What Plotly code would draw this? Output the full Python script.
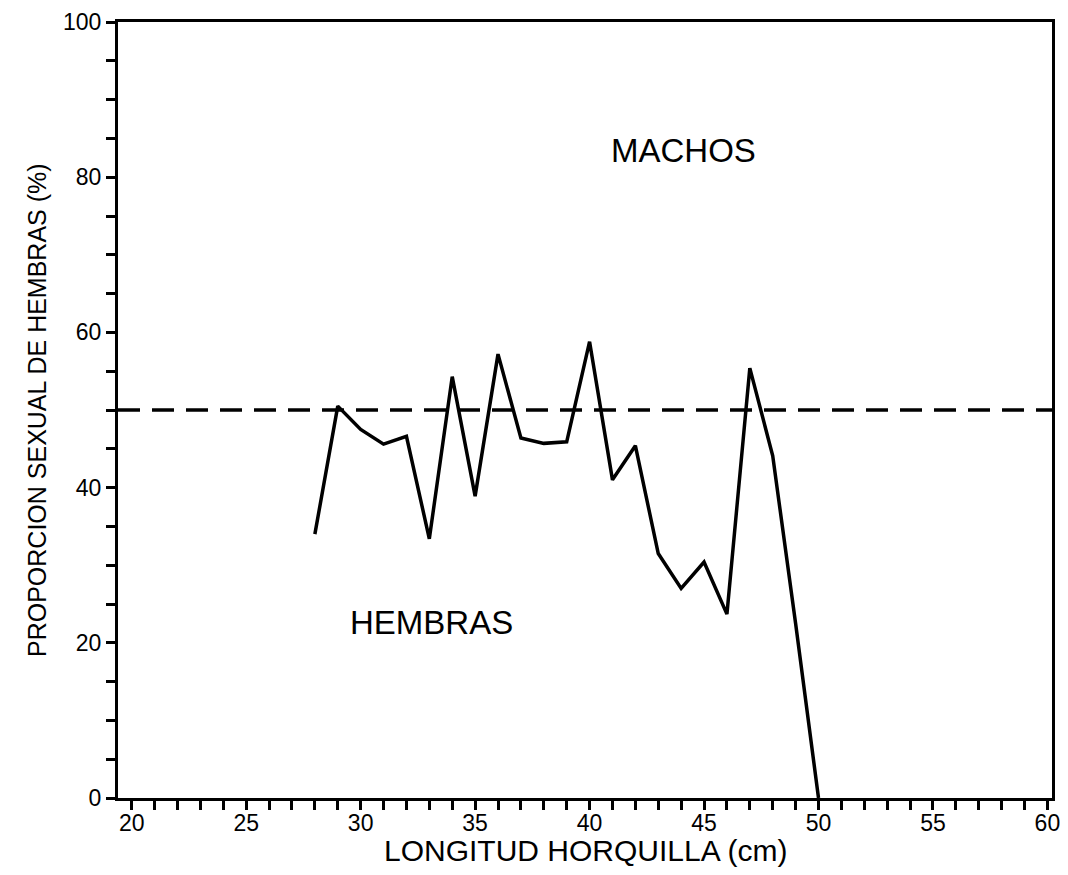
import plotly.graph_objects as go

# Data
longitud = [28, 29, 30, 31, 32, 33, 34, 35, 36, 37, 38, 39, 40, 41, 42, 43, 44, 45, 46, 47, 48, 49, 50]
prop_hembras = [34, 50.5, 47.5, 45.6, 46.6, 33.4, 54.3, 38.9, 57.2, 46.4, 45.7, 45.9, 58.8, 41.0, 45.4, 31.5, 27.0, 30.4, 23.7, 55.4, 44.1, 22.5, 0]
ref_x = [19.4, 60.2]
ref_y = [50, 50]

x_tickvals = [20, 25, 30, 35, 40, 45, 50, 55, 60]
y_tickvals = [0, 20, 40, 60, 80, 100]

FONT = "Liberation Sans, Arial, Helvetica, sans-serif"

fig = go.Figure()
fig.add_trace(go.Scatter(x=ref_x, y=ref_y, mode="lines",
                         line=dict(color="black", width=3.5, dash="22px,12px"),
                         showlegend=False, hoverinfo="skip"))
fig.add_trace(go.Scatter(x=longitud, y=prop_hembras, mode="lines",
                         line=dict(color="black", width=3.5),
                         showlegend=False))

fig.add_annotation(x=44.1, y=83.5, text="MACHOS", showarrow=False,
                   font=dict(family=FONT, size=33, color="black"))
fig.add_annotation(x=33.1, y=22.6, text="HEMBRAS", showarrow=False,
                   font=dict(family=FONT, size=33, color="black"))

# axis titles as annotations for precise placement
fig.add_annotation(x=0.5, y=0, xref="paper", yref="paper", yanchor="middle",
                   yshift=-52, text="LONGITUD HORQUILLA (cm)", showarrow=False,
                   font=dict(family=FONT, size=30, color="black"))
fig.add_annotation(x=0, y=0.5, xref="paper", yref="paper", xanchor="center",
                   xshift=-81, textangle=-90, text="PROPORCION SEXUAL DE HEMBRAS (%)",
                   showarrow=False, font=dict(family=FONT, size=25, color="black"))

fig.update_layout(
    width=1068, height=875,
    margin=dict(l=110, r=24, t=14, b=85),
    paper_bgcolor="white", plot_bgcolor="white",
    font=dict(family=FONT, color="black"),
)
fig.update_xaxes(
    range=ref_x, tickvals=x_tickvals, ticktext=[str(v) for v in x_tickvals],
    ticks="outside", ticklen=9, tickwidth=3, tickcolor="black",
    minor=dict(dtick=1, ticks="outside", ticklen=9, tickwidth=3, tickcolor="black"),
    showline=True, linecolor="black", linewidth=3, mirror=True,
    showgrid=False, zeroline=False, automargin=False,
    ticklabeloverflow="allow", ticklabelstandoff=-7,
    tickfont=dict(family=FONT, size=23, color="black"),
)
fig.update_yaxes(
    range=[0, 100], tickvals=y_tickvals, ticktext=[str(v) for v in y_tickvals],
    ticks="outside", ticklen=9, tickwidth=3, tickcolor="black",
    minor=dict(dtick=5, ticks="outside", ticklen=9, tickwidth=3, tickcolor="black"),
    showline=True, linecolor="black", linewidth=3, mirror=True,
    showgrid=False, zeroline=False, automargin=False,
    ticklabeloverflow="allow",
    tickfont=dict(family=FONT, size=23, color="black"),
)

fig.write_html("out.html")
